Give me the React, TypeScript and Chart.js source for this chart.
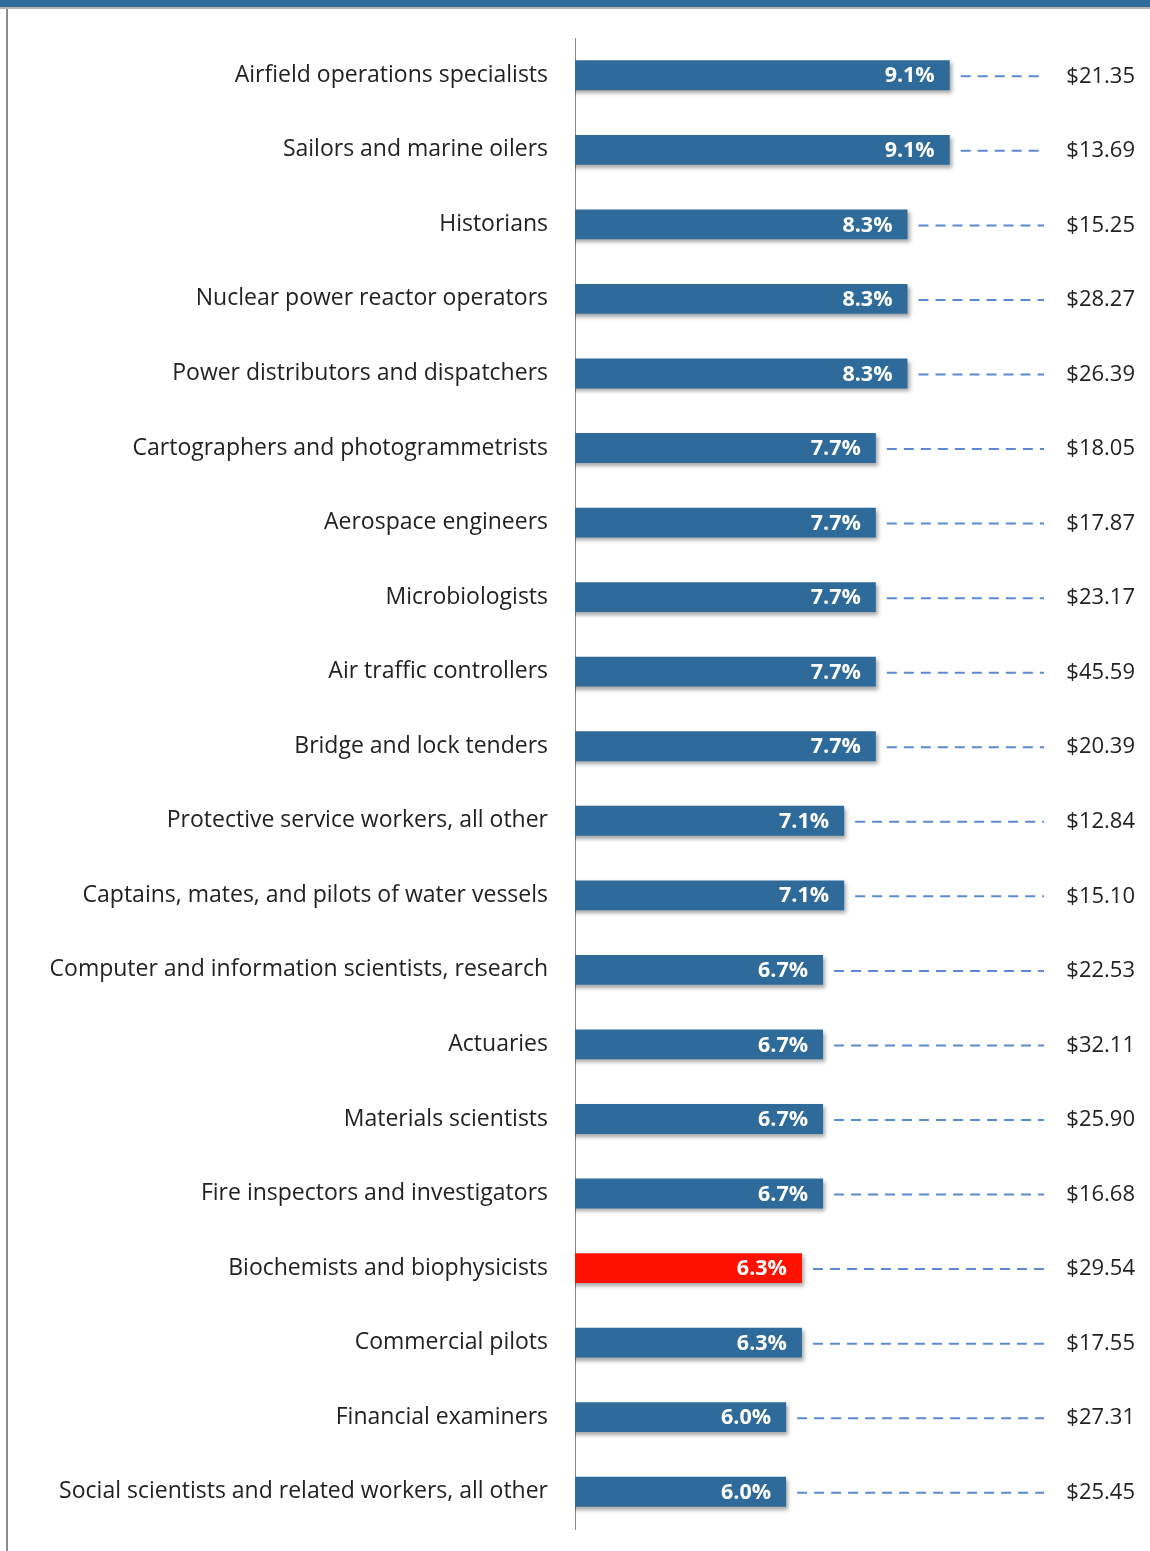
import React, { useEffect, useRef } from "react";
import { Chart, registerables } from "chart.js";

Chart.register(...registerables);

const categories = [
  "Airfield operations specialists",
  "Sailors and marine oilers",
  "Historians",
  "Nuclear power reactor operators",
  "Power distributors and dispatchers",
  "Cartographers and photogrammetrists",
  "Aerospace engineers",
  "Microbiologists",
  "Air traffic controllers",
  "Bridge and lock tenders",
  "Protective service workers, all other",
  "Captains, mates, and pilots of water vessels",
  "Computer and information scientists, research",
  "Actuaries",
  "Materials scientists",
  "Fire inspectors and investigators",
  "Biochemists and biophysicists",
  "Commercial pilots",
  "Financial examiners",
  "Social scientists and related workers, all other",
];

const growthPct = [9.1, 9.1, 8.3, 8.3, 8.3, 7.7, 7.7, 7.7, 7.7, 7.7, 7.1, 7.1, 6.7, 6.7, 6.7, 6.7, 6.3, 6.3, 6.0, 6.0];

const wageLabels = [
  "$21.35", "$13.69", "$15.25", "$28.27", "$26.39", "$18.05", "$17.87", "$23.17", "$45.59", "$20.39",
  "$12.84", "$15.10", "$22.53", "$32.11", "$25.90", "$16.68", "$29.54", "$17.55", "$27.31", "$25.45",
];

const highlighted = ["Biochemists and biophysicists"];

const BLUE = "#2e6b9a";
const RED = "#ff1100";
const FONT = "'Open Sans', Lato, sans-serif";

const framePlugin = {
  id: "frame",
  beforeDraw(chart: any) {
    const ctx = chart.ctx;
    ctx.save();
    ctx.fillStyle = BLUE;
    ctx.fillRect(0, 0, chart.width, 7);
    ctx.fillStyle = "#b5b5b5";
    ctx.fillRect(0, 7, chart.width, 2);
    ctx.fillStyle = "#8c8c8c";
    ctx.fillRect(6, 9, 2, chart.height - 9);
    ctx.restore();
  },
};

const shadowPlugin = {
  id: "barShadow",
  beforeDatasetsDraw(chart: any) {
    const ctx = chart.ctx;
    ctx.save();
    ctx.shadowColor = "rgba(0,0,0,0.35)";
    ctx.shadowBlur = 4;
    ctx.shadowOffsetX = 2;
    ctx.shadowOffsetY = 3;
  },
  afterDatasetsDraw(chart: any) {
    chart.ctx.restore();
  },
};

const labelPlugin = {
  id: "barLabels",
  afterDatasetsDraw(chart: any) {
    const ctx = chart.ctx;
    const meta = chart.getDatasetMeta(0);
    const area = chart.chartArea;
    ctx.save();
    meta.data.forEach((bar: any, i: number) => {
      const y = bar.y;
      // value label inside bar
      ctx.font = `bold 21.5px ${FONT}`;
      ctx.fillStyle = "#ffffff";
      ctx.textAlign = "right";
      ctx.textBaseline = "middle";
      ctx.fillText(growthPct[i].toFixed(1) + "%", bar.x - 15, y + 1);
      // dashed leader
      ctx.beginPath();
      ctx.setLineDash([10, 7]);
      ctx.lineWidth = 2;
      ctx.strokeStyle = "#5b8ad0";
      ctx.moveTo(bar.x + 11, y + 1);
      ctx.lineTo(area.right - 6, y + 1);
      ctx.stroke();
      ctx.setLineDash([]);
      // wage label
      ctx.font = `22px ${FONT}`;
      ctx.fillStyle = "#222222";
      ctx.textAlign = "right";
      ctx.fillText(wageLabels[i], 1135, y + 1);
    });
    ctx.restore();
  },
};

export default function App() {
  const canvasRef = useRef<HTMLCanvasElement | null>(null);

  useEffect(() => {
    const canvas = canvasRef.current;
    if (!canvas) return;
    const chart = new Chart(canvas, {
      type: "bar",
      data: {
        labels: categories,
        datasets: [
          {
            data: growthPct,
            backgroundColor: categories.map((c) => (highlighted.includes(c) ? RED : BLUE)),
            borderWidth: 0,
            barPercentage: 0.4,
            categoryPercentage: 1,
          },
        ],
      },
      options: {
        indexAxis: "y",
        animation: false,
        responsive: false,
        devicePixelRatio: 1,
        layout: { padding: { top: 38, bottom: 22, right: 100, left: 0 } },
        plugins: {
          legend: { display: false },
          tooltip: { enabled: false },
          title: { display: false },
        },
        scales: {
          x: {
            display: false,
            min: 2,
            max: 11,
          },
          y: {
            afterFit(scale: any) {
              scale.width = 575;
            },
            grid: {
              display: true,
              drawOnChartArea: false,
              drawTicks: true,
              tickLength: 26,
              color: "rgba(0,0,0,0)",
              tickColor: "rgba(0,0,0,0)",
            },
            border: { display: true, color: "#8a8a8a", width: 1 },
            ticks: {
              padding: 1,
              color: "#222222",
              font: { family: FONT, size: 23 },
            },
          },
        },
      },
      plugins: [framePlugin, shadowPlugin, labelPlugin],
    });
    return () => chart.destroy();
  }, []);

  return (
    <div style={{ position: "absolute", left: 0, top: 0, width: 1150, height: 1551, background: "#fff" }}>
      <canvas ref={canvasRef} width={1150} height={1551} style={{ display: "block" }} />
    </div>
  );
}
